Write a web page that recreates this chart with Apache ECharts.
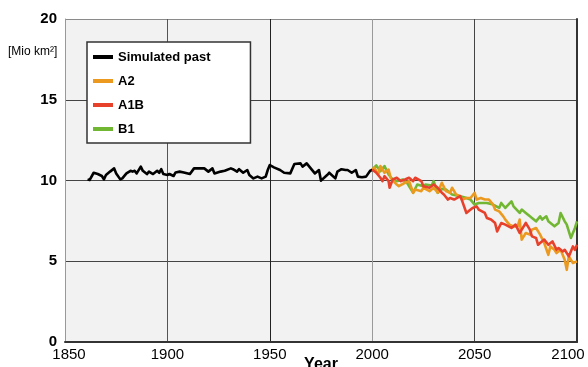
<!DOCTYPE html>
<html>
<head>
<meta charset="utf-8">
<script src="https://cdn.jsdelivr.net/npm/echarts@6/dist/echarts.min.js"></script>
<style>
  html, body { margin: 0; padding: 0; background: #ffffff; }
  #chart { width: 588px; height: 367px; }
</style>
</head>
<body>
<div id="chart"></div>
<script>
// Sea-ice area (million km²): simulated past and three emission scenarios
const xTicks = [1850, 1900, 1950, 2000, 2050, 2100];
const yTicks = [0, 5, 10, 15, 20];

const past = [
  [1861, 10.07], [1862, 10.03], [1864, 10.48], [1866, 10.40], [1868, 10.28],
  [1869, 10.07], [1870, 10.34], [1872, 10.55], [1874, 10.75], [1875, 10.44],
  [1877, 10.07], [1878, 10.13], [1880, 10.44], [1882, 10.60], [1883, 10.55],
  [1884, 10.60], [1885, 10.44], [1887, 10.86], [1888, 10.60], [1890, 10.40],
  [1891, 10.55], [1893, 10.40], [1895, 10.60], [1896, 10.48], [1897, 10.70],
  [1898, 10.40], [1900, 10.34], [1901, 10.40], [1903, 10.28], [1904, 10.50],
  [1906, 10.55], [1908, 10.50], [1911, 10.40], [1913, 10.75], [1916, 10.75],
  [1918, 10.75], [1920, 10.55], [1922, 10.75], [1923, 10.44], [1926, 10.55],
  [1928, 10.60], [1931, 10.75], [1932, 10.70], [1934, 10.55], [1935, 10.70],
  [1937, 10.48], [1939, 10.65], [1940, 10.34], [1942, 10.13], [1944, 10.24],
  [1946, 10.13], [1948, 10.24], [1949, 10.65], [1950, 10.96], [1952, 10.81],
  [1955, 10.65], [1957, 10.48], [1960, 10.44], [1962, 11.02], [1965, 11.06],
  [1966, 10.86], [1968, 11.06], [1970, 10.75], [1972, 10.44], [1974, 10.65],
  [1975, 9.99], [1978, 10.34], [1979, 10.48], [1982, 10.13], [1983, 10.55],
  [1985, 10.70], [1987, 10.65], [1988, 10.65], [1990, 10.48], [1992, 10.65],
  [1993, 10.24], [1995, 10.20], [1997, 10.24], [1999, 10.60], [2000, 10.65]
];

const a2 = [
  [2000, 10.68], [2001, 10.79], [2003, 10.37], [2004, 10.89], [2006, 10.48],
  [2008, 10.68], [2009, 10.17], [2012, 9.75], [2013, 9.65], [2016, 9.86],
  [2018, 9.96], [2020, 9.24], [2021, 9.44], [2024, 9.34], [2025, 9.55],
  [2028, 9.34], [2030, 9.55], [2032, 9.24], [2034, 9.86], [2036, 9.34],
  [2038, 9.24], [2039, 9.55], [2041, 9.13], [2043, 9.03], [2044, 8.82],
  [2046, 8.92], [2048, 8.92], [2050, 9.24], [2051, 8.82], [2053, 8.92],
  [2055, 8.82], [2057, 8.82], [2059, 8.51], [2060, 8.20], [2062, 8.09],
  [2064, 7.78], [2065, 7.58], [2067, 7.27], [2069, 7.16], [2071, 7.16],
  [2072, 7.58], [2073, 6.34], [2075, 6.75], [2077, 6.65], [2078, 6.96],
  [2080, 7.06], [2082, 6.65], [2084, 6.13], [2086, 5.40], [2087, 5.92],
  [2089, 5.71], [2090, 5.51], [2092, 5.71], [2094, 5.09], [2095, 4.47],
  [2096, 5.30], [2098, 4.89], [2100, 4.99]
];

const a1b = [
  [2000, 10.68], [2002, 10.48], [2004, 10.17], [2005, 9.96], [2006, 10.27],
  [2008, 9.96], [2008.5, 9.55], [2010, 10.06], [2012, 10.17], [2014, 9.96],
  [2016, 10.06], [2018, 10.17], [2020, 9.96], [2021, 10.17], [2024, 9.96],
  [2025, 9.65], [2028, 9.55], [2030, 9.75], [2032, 9.55], [2034, 9.24],
  [2035, 9.13], [2037, 8.82], [2038, 8.92], [2040, 8.82], [2043, 9.03],
  [2044, 8.71], [2046, 7.99], [2047, 8.09], [2049, 8.30], [2051, 8.40],
  [2052, 8.20], [2055, 7.99], [2056, 7.68], [2058, 7.58], [2060, 7.37],
  [2061, 6.85], [2063, 7.37], [2065, 7.27], [2068, 7.06], [2070, 7.27],
  [2072, 6.75], [2073, 6.96], [2075, 7.37], [2077, 6.96], [2078, 6.54],
  [2080, 6.44], [2081, 6.02], [2084, 6.34], [2086, 6.02], [2088, 6.23],
  [2090, 5.71], [2091, 5.82], [2093, 5.61], [2094, 5.71], [2096, 5.30],
  [2098, 5.92], [2099, 5.71], [2100, 6.02]
];

const b1 = [
  [2000, 10.68], [2002, 10.93], [2004, 10.58], [2006, 10.89], [2008, 10.37],
  [2010, 10.06], [2012, 9.96], [2015, 10.06], [2017, 9.86], [2020, 9.24],
  [2022, 9.75], [2025, 9.65], [2026, 9.75], [2029, 9.69], [2030, 9.96],
  [2032, 9.24], [2034, 9.48], [2036, 9.44], [2039, 9.13], [2043, 9.03],
  [2046, 8.92], [2048, 8.82], [2050, 8.51], [2052, 8.61], [2056, 8.61],
  [2059, 8.51], [2062, 8.30], [2063, 8.61], [2065, 8.30], [2068, 8.71],
  [2069, 8.40], [2072, 7.99], [2073, 8.20], [2075, 7.99], [2077, 7.78],
  [2078, 7.68], [2080, 7.47], [2082, 7.78], [2083, 7.58], [2085, 7.78],
  [2086, 7.47], [2089, 7.16], [2091, 7.37], [2092, 7.99], [2094, 7.47],
  [2095, 7.27], [2097, 6.44], [2099, 7.06], [2100, 7.47]
];

const seriesNames = ['Simulated past', 'A2', 'A1B', 'B1'];
const seriesColors = ['#000000', '#eb9a1f', '#e8412b', '#72b733'];

const chart = echarts.init(document.getElementById('chart'), null, { renderer: 'canvas' });

function lineSeries(name, data, color, z) {
  return {
    name: name,
    type: 'line',
    data: data,
    color: color,
    showSymbol: false,
    symbol: 'none',
    smooth: false,
    z: z,
    lineStyle: { color: color, width: 2.6, join: 'round' },
    emphasis: { disabled: true }
  };
}

chart.setOption({
  animation: false,
  backgroundColor: '#ffffff',
  textStyle: { fontFamily: 'Liberation Sans, Arial, sans-serif' },
  grid: {
    left: 65, right: 11, top: 19, bottom: 25,
    outerBoundsMode: 'none', containLabel: false,
    show: true, backgroundColor: '#f2f2f2', borderWidth: 0
  },
  legend: {
    orient: 'vertical',
    left: 87, top: 42,
    data: seriesNames,
    icon: 'rect',
    itemWidth: 20, itemHeight: 4,
    itemGap: 10,
    padding: [8, 40, 7, 6],
    backgroundColor: '#ffffff',
    borderColor: '#333333', borderWidth: 1.5,
    selectedMode: false,
    textStyle: { fontSize: 13, fontWeight: 'bold', color: '#000', lineHeight: 14 }
  },
  graphic: [{
    type: 'text', left: 8, top: 46,
    style: { text: '[Mio km²]', fontSize: 12, fill: '#000', fontFamily: 'Liberation Sans, Arial, sans-serif' }
  }],
  xAxis: {
    type: 'value',
    min: xTicks[0], max: xTicks[xTicks.length - 1], interval: 50,
    name: 'Year', nameLocation: 'middle', nameGap: 15, nameMoveOverlap: false,
    nameTextStyle: { fontSize: 16, fontWeight: 'bold', color: '#000' },
    axisLine: { show: true, lineStyle: { color: '#333', width: 2 } },
    axisTick: { show: false },
    axisLabel: {
      fontSize: 15, color: '#000', margin: 5,
      formatter: function (v) {
        if (v === xTicks[0]) return '{first|' + v + '}';
        if (v === xTicks[xTicks.length - 1]) return '{last|' + v + '}';
        return String(v);
      },
      rich: {
        first: { fontSize: 15, padding: [0, 0, 0, 8] },
        last: { fontSize: 15, padding: [0, 18, 0, 0] }
      }
    },
    splitLine: {
      show: true,
      lineStyle: { color: ['#999', '#555', '#222', '#9a9a9a', '#444', '#333'], width: 1 }
    }
  },
  yAxis: [{
    type: 'value',
    min: yTicks[0], max: yTicks[yTicks.length - 1], interval: 5,
    axisLine: { show: true, lineStyle: { color: '#999', width: 1 } },
    axisTick: { show: false },
    axisLabel: { fontSize: 15, fontWeight: 'bold', color: '#000', margin: 8 },
    splitLine: {
      show: true,
      lineStyle: { color: ['#333', '#444', '#444', '#444', '#8a8a8a'], width: 1 }
    }
  }, {
    type: 'value', position: 'right',
    min: yTicks[0], max: yTicks[yTicks.length - 1], interval: 5,
    axisLine: { show: true, lineStyle: { color: '#333', width: 2 } },
    axisTick: { show: false }, axisLabel: { show: false }, splitLine: { show: false }
  }],
  series: [
    lineSeries(seriesNames[0], past, seriesColors[0], 5),
    lineSeries(seriesNames[3], b1, seriesColors[3], 4),
    lineSeries(seriesNames[1], a2, seriesColors[1], 5),
    lineSeries(seriesNames[2], a1b, seriesColors[2], 6)
  ]
});
</script>
</body>
</html>
